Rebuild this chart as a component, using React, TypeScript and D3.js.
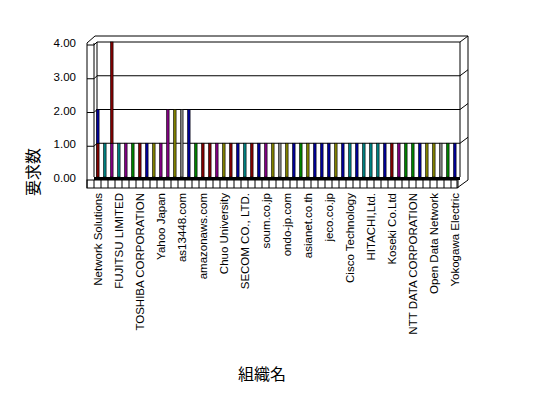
import React, { useEffect, useRef } from 'react';
import * as d3 from 'd3';

// visible category labels (every third organisation is labelled)
const orgLabels = [
  'Network Solutions', 'FUJITSU LIMITED', 'TOSHIBA CORPORATION', 'Yahoo Japan',
  'as13448.com', 'amazonaws.com', 'Chuo University', 'SECOM CO., LTD.',
  'soum.co.jp', 'ondo-jp.com', 'asianet.co.th', 'jeco.co.jp',
  'Cisco Technology', 'HITACHI,Ltd.', 'Koseki Co.Ltd', 'NTT DATA CORPORATION',
  'Open Data Network', 'Yokogawa Electric'
];

// 要求数 per organisation
const requestCounts = [
  2, 1, 4, 1, 1, 1, 1, 1, 1, 1, 2, 2, 2, 2, 1, 1, 1, 1, 1, 1, 1, 1, 1, 1, 1, 1,
  1, 1, 1, 1, 1, 1, 1, 1, 1, 1, 1, 1, 1, 1, 1, 1, 1, 1, 1, 1, 1, 1, 1, 1, 1, 1
];

// colour of the (top) segment of each column
const barColors = [
  'blue', 'teal', 'maroon', 'teal', 'purple', 'green', 'maroon', 'blue', 'olive', 'purple',
  'purple', 'olive', 'gray', 'blue', 'green', 'maroon', 'maroon', 'purple', 'olive', 'maroon',
  'blue', 'teal', 'maroon', 'blue', 'purple', 'olive', 'gray', 'olive', 'blue', 'green',
  'olive', 'blue', 'blue', 'blue', 'olive', 'blue', 'teal', 'blue', 'teal', 'teal',
  'teal', 'blue', 'maroon', 'purple', 'green', 'green', 'blue', 'olive', 'olive', 'gray',
  'green', 'blue'
];

// columns that carry a lower segment of 1 in another colour
const lowerIndex = [0, 2];
const lowerColor = ['maroon', 'purple'];

const yTicks = [0, 1, 2, 3, 4];

const palette: Record<string, string> = {
  blue: '#000098',
  teal: '#008080',
  maroon: '#800000',
  purple: '#800080',
  green: '#008000',
  olive: '#808000',
  gray: '#808080'
};

const App: React.FC = () => {
  const svgRef = useRef<SVGSVGElement>(null);

  useEffect(() => {
    const svg = d3.select(svgRef.current);
    svg.selectAll('*').remove();

    const x = d3.scaleBand<number>()
      .domain(d3.range(requestCounts.length))
      .range([94, 458])
      .padding(0);
    const y = d3.scaleLinear().domain([0, 4]).range([177, 42]);
    const bw = x.bandwidth();
    const left = 87, wallL = 97, wallR = 460, outerR = 468, top = 36;

    const frame = svg.append('g').attr('stroke', '#000').attr('fill', 'none');

    // back wall gridlines, side wall steps and right wall diagonals
    yTicks.filter(v => v > 0).forEach(v => {
      frame.append('line').attr('x1', wallL).attr('x2', wallR).attr('y1', y(v)).attr('y2', y(v));
      frame.append('line').attr('x1', wallR).attr('x2', outerR).attr('y1', y(v)).attr('y2', y(v) - 6);
      frame.append('polyline')
        .attr('points', `${left},${y(v) + 3} ${94},${y(v) + 3} ${wallL},${y(v)}`);
    });
    frame.append('line').attr('x1', 95).attr('x2', outerR).attr('y1', top).attr('y2', top);
    frame.append('line').attr('x1', left).attr('x2', 95).attr('y1', y(4) + 1).attr('y2', top);
    frame.append('line').attr('x1', wallR).attr('x2', wallR).attr('y1', y(4)).attr('y2', y(0));
    frame.append('line').attr('x1', outerR).attr('x2', outerR).attr('y1', top).attr('y2', 180);
    frame.append('line').attr('x1', left).attr('x2', left).attr('y1', y(4) + 1).attr('y2', 188);
    frame.append('line').attr('x1', 94).attr('x2', 94).attr('y1', y(4) + 1).attr('y2', y(0));
    frame.append('line').attr('x1', wallL).attr('x2', wallL).attr('y1', y(4)).attr('y2', y(0));

    // floor front strip with category ticks
    frame.append('rect').attr('x', left).attr('y', 180).attr('width', 457 - left).attr('height', 8);
    d3.range(requestCounts.length + 1).forEach(i => {
      const xi = 94 + i * bw;
      frame.append('line').attr('x1', xi).attr('x2', xi).attr('y1', 180).attr('y2', 188);
    });
    frame.append('line').attr('x1', 457).attr('x2', outerR).attr('y1', 188).attr('y2', 180);

    // columns
    const bars = svg.append('g');
    const colW = 2.6;
    requestCounts.forEach((v, i) => {
      const k = lowerIndex.indexOf(i);
      const base = k >= 0 ? 1 : 0;
      if (k >= 0) {
        bars.append('rect')
          .attr('x', x(i)! + 2.5).attr('width', colW)
          .attr('y', y(1)).attr('height', y(0) - y(1))
          .attr('fill', palette[lowerColor[k]])
          .attr('stroke', '#000').attr('stroke-width', 0.6);
      }
      bars.append('rect')
        .attr('x', x(i)! + 2.5).attr('width', colW)
        .attr('y', y(v)).attr('height', y(base) - y(v))
        .attr('fill', palette[barColors[i]])
        .attr('stroke', '#000').attr('stroke-width', 0.6);
    });

    // floor back edge (thick)
    svg.append('line')
      .attr('x1', 94).attr('x2', wallR).attr('y1', 178.5).attr('y2', 178.5)
      .attr('stroke', '#000').attr('stroke-width', 3);

    // y axis labels
    svg.append('g').selectAll('text')
      .data(yTicks)
      .enter().append('text')
      .attr('x', 76)
      .attr('y', d => y(d) + 2)
      .attr('text-anchor', 'end')
      .attr('dominant-baseline', 'middle')
      .style('font', '11.5px "Liberation Sans", Arial, sans-serif')
      .text(d => d.toFixed(2));

    // category labels, every third
    svg.append('g').selectAll('text')
      .data(orgLabels)
      .enter().append('text')
      .attr('transform', (d, j) => `translate(${x(j * 3)! + bw / 2 + 1},193) rotate(-90)`)
      .attr('text-anchor', 'end')
      .attr('dominant-baseline', 'middle')
      .style('font', '11.5px "Liberation Sans", Arial, sans-serif')
      .text(d => d);

    // axis titles
    svg.append('text')
      .attr('transform', 'translate(35,172) rotate(-90)')
      .attr('text-anchor', 'middle')
      .attr('dominant-baseline', 'middle')
      .style('font', '16px "Noto Sans CJK JP", sans-serif')
      .text('要求数');
    svg.append('text')
      .attr('x', 262).attr('y', 376)
      .attr('text-anchor', 'middle')
      .attr('dominant-baseline', 'middle')
      .style('font', '16px "Noto Sans CJK JP", sans-serif')
      .text('組織名');
  }, []);

  return (
    <div style={{ position: 'absolute', left: 0, top: 0, background: '#fff' }}>
      <svg ref={svgRef} width={548} height={398} />
    </div>
  );
};

export default App;
